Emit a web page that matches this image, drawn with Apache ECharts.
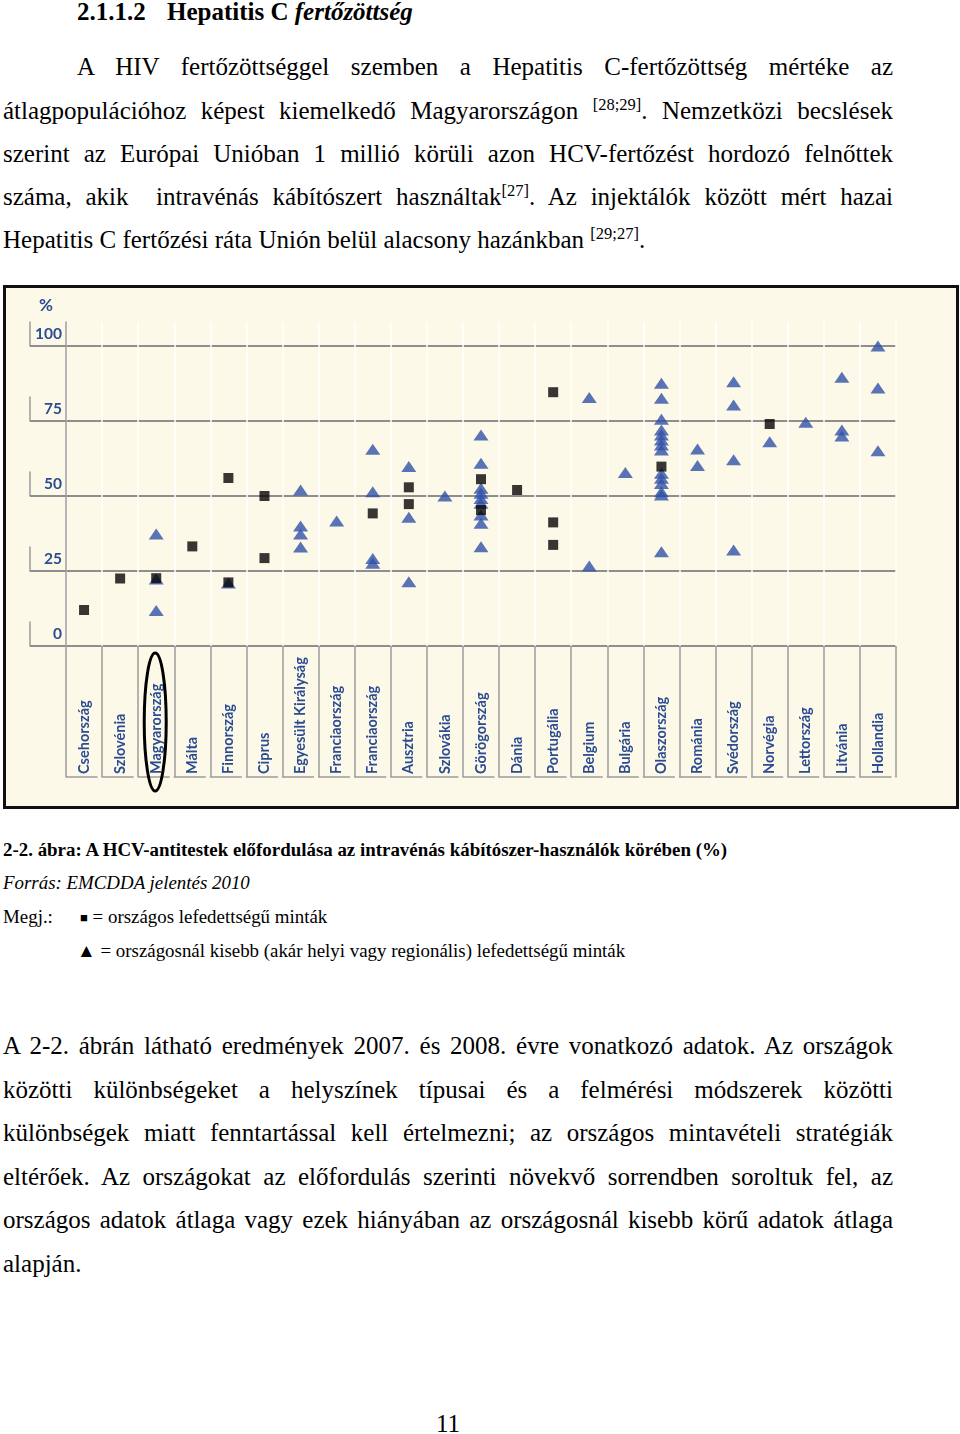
<!DOCTYPE html>
<html><head><meta charset="utf-8">
<script src="https://cdn.jsdelivr.net/npm/echarts@6/dist/echarts.min.js"></script>
<style>
html,body{margin:0;padding:0;background:#fff}
body{width:960px;height:1434px;position:relative;overflow:hidden;font-family:"Liberation Serif","Times New Roman",serif;color:#000}
.ln{position:absolute;white-space:nowrap;font-size:25px;line-height:30px;display:inline-block}
.cap{position:absolute;white-space:nowrap;font-size:18.9px;line-height:24px;display:inline-block}
.sup{font-size:16.5px;position:relative;top:-9px}
#chart{position:absolute;left:3px;top:285px;width:956px;height:524px;border:3px solid #111;box-sizing:border-box;background:#fdf9e8}
</style></head>
<body>
<div class="ln" style="left:77px;top:-3px;font-weight:bold">2.1.1.2</div>
<div class="ln" style="left:167px;top:-3px;font-weight:bold">Hepatitis C <i>fertőzöttség</i></div>

<div class="ln j" data-w="816" style="left:77px;top:52px">A HIV fertőzöttséggel szemben a Hepatitis C-fertőzöttség mértéke az</div>
<div class="ln j" data-w="890" style="left:3px;top:96px">átlagpopulációhoz képest kiemelkedő Magyarországon <span class="sup">[28;29]</span>. Nemzetközi becslések</div>
<div class="ln j" data-w="890" style="left:3px;top:139px">szerint az Európai Unióban 1 millió körüli azon HCV-fertőzést hordozó felnőttek</div>
<div class="ln j" data-w="890" style="left:3px;top:182px">száma, akik &nbsp;intravénás kábítószert használtak<span class="sup">[27]</span>. Az injektálók között mért hazai</div>
<div class="ln" style="left:3px;top:225px">Hepatitis C fertőzési ráta Unión belül alacsony hazánkban <span class="sup">[29;27]</span>.</div>

<div id="chart"></div>

<div class="cap" style="left:3px;top:838px;font-weight:bold">2-2. ábra: A HCV-antitestek előfordulása az intravénás kábítószer-használók körében (%)</div>
<div class="cap" style="left:3px;top:871px;font-style:italic">Forrás: EMCDDA jelentés 2010</div>
<div class="cap" style="left:3px;top:905px">Megj.:</div>
<div class="cap" style="left:80px;top:905px"><span style="font-size:13px;position:relative;top:-1px">■</span> = országos lefedettségű minták</div>
<div class="cap" style="left:77px;top:939px">▲ = országosnál kisebb (akár helyi vagy regionális) lefedettségű minták</div>

<div class="ln j" data-w="890" style="left:3px;top:1031px">A 2-2. ábrán látható eredmények 2007. és 2008. évre vonatkozó adatok. Az országok</div>
<div class="ln j" data-w="890" style="left:3px;top:1075px">közötti különbségeket a helyszínek típusai és a felmérési módszerek közötti</div>
<div class="ln j" data-w="890" style="left:3px;top:1118px">különbségek miatt fenntartással kell értelmezni; az országos mintavételi stratégiák</div>
<div class="ln j" data-w="890" style="left:3px;top:1162px">eltérőek. Az országokat az előfordulás szerinti növekvő sorrendben soroltuk fel, az</div>
<div class="ln j" data-w="890" style="left:3px;top:1205px">országos adatok átlaga vagy ezek hiányában az országosnál kisebb körű adatok átlaga</div>
<div class="ln" style="left:3px;top:1249px">alapján.</div>

<div class="ln" style="left:436px;top:1409px">11</div>

<script>
// ---- data ----
const categories = ['Csehország','Szlovénia','Magyarország','Málta','Finnország','Ciprus','Egyesült Királyság','Franciaország','Franciaország','Ausztria','Szlovákia','Görögország','Dánia','Portugália','Belgium','Bulgária','Olaszország','Románia','Svédország','Norvégia','Lettország','Litvánia','Hollandia'];
const yTicks = [0, 25, 50, 75, 100];
// national samples (squares), one list per country
const nationalValues = [[12],[22.5],[22.6],[33.2],[56,21.2],[50,29.3],[],[],[44.2],[52.9,47.3],[],[55.6,45.3],[52],[84.6,41.2,33.7],[],[],[59.8],[],[],[74],[],[],[]];
// sub-national samples (triangles), one list per country
const subnationalValues = [[],[],[37.3,22.3,11.8],[],[21],[],[52,40,37.3,33],[41.7],[65.6,51.4,29.2,27.6],[59.8,42.9,21.4],[50],[70.3,60.9,52.6,50.9,49.2,47.6,43.7,40.9,33.1],[],[],[82.8,26.7],[57.8],[87.6,82.6,75.6,72,70.3,68.7,67,65.3,57.6,55.9,54.2,51.4,50.3,31.4],[65.7,60.2],[88.1,80.3,62.1,32],[68.1],[74.6],[89.6,72,70],[100,86,65.1]];
const highlighted = 'Magyarország';

// justify body lines
document.querySelectorAll('.j').forEach(el => {
  const target = +el.dataset.w;
  el.style.wordSpacing = '0px';
  const w = el.getBoundingClientRect().width;
  const n = (el.textContent.match(/[ \u00a0]/g) || []).length;
  if (n > 0) el.style.wordSpacing = ((target - w) / n) + 'px';
});

const toPairs = arr => arr.flatMap((vals, i) => vals.map(v => [i, v]));
const blue = '#2b4c93';
const grey = '#9c9c9c';
const labelFont = 'Lato, "Noto Sans", sans-serif';

const chart = echarts.init(document.getElementById('chart'), null, {renderer: 'canvas'});
chart.setOption({
  animation: false,
  grid: {left: 60, right: 60, top: 34, bottom: 160},
  xAxis: [{
    type: 'category', data: categories, boundaryGap: true,
    axisLine: {show: false},
    axisTick: {show: true, interval: 0, length: 131, lineStyle: {color: grey, width: 1.5}},
    axisLabel: {interval: 0, rotate: 90, align: 'left', verticalAlign: 'middle', margin: 128,
      color: blue, fontFamily: labelFont, fontSize: 14.5, fontWeight: 'bold'},
    splitLine: {show: true, interval: 0, lineStyle: {color: '#ffffff', width: 1.5}}
  }, {
    type: 'category', data: categories, position: 'bottom', offset: 131,
    axisLine: {show: true, onZero: false, lineStyle: {color: grey, width: 1.5, type: [31, 830 / 23 - 31]}},
    axisTick: {show: false}, axisLabel: {show: false}, splitLine: {show: false}
  }],
  yAxis: [{
    type: 'value', min: 0, max: 108, interval: 25,
    axisLine: {show: true, lineStyle: {color: grey, width: 1.5}},
    axisTick: {show: true, length: 36, customValues: yTicks, lineStyle: {color: '#8e8e8e', width: 2}},
    axisLabel: {customValues: yTicks, margin: 4, verticalAlign: 'bottom', padding: [0, 0, 4, 0],
      color: blue, fontFamily: labelFont, fontSize: 15.5, fontWeight: 'bold'},
    splitLine: {show: true, lineStyle: {color: '#8e8e8e', width: 2}}
  }, {
    type: 'value', min: 0, max: 108, position: 'left', offset: 36,
    axisLine: {show: true, onZero: false, lineStyle: {color: grey, width: 1.5, type: [24, 51]}},
    axisTick: {show: false}, axisLabel: {show: false}, splitLine: {show: false},
    name: '%', nameLocation: 'end', nameGap: 8,
    nameTextStyle: {align: 'left', padding: [0, 0, 0, 9], color: blue, fontFamily: labelFont, fontSize: 17, fontWeight: 'bold'}
  }],
  series: [{
    name: 'országosnál kisebb lefedettségű minták', type: 'scatter', xAxisIndex: 0, yAxisIndex: 0,
    symbol: 'triangle', symbolSize: [15, 11], itemStyle: {color: '#3151a6'}, z: 3,
    data: toPairs(subnationalValues)
  }, {
    name: 'országos lefedettségű minták', type: 'scatter', xAxisIndex: 0, yAxisIndex: 0,
    symbol: 'rect', symbolSize: 10, itemStyle: {color: '#050505'}, z: 4,
    data: toPairs(nationalValues)
  }]
});

const hx = chart.convertToPixel({xAxisIndex: 0}, categories.indexOf(highlighted));
const y0 = chart.convertToPixel({yAxisIndex: 0}, 0);
chart.setOption({
  graphic: [{
    type: 'ellipse', shape: {cx: hx - 1, cy: y0 + 76, rx: 11, ry: 69},
    style: {fill: 'none', stroke: '#000', lineWidth: 3}, z: 10
  }]
});
</script>
</body></html>
